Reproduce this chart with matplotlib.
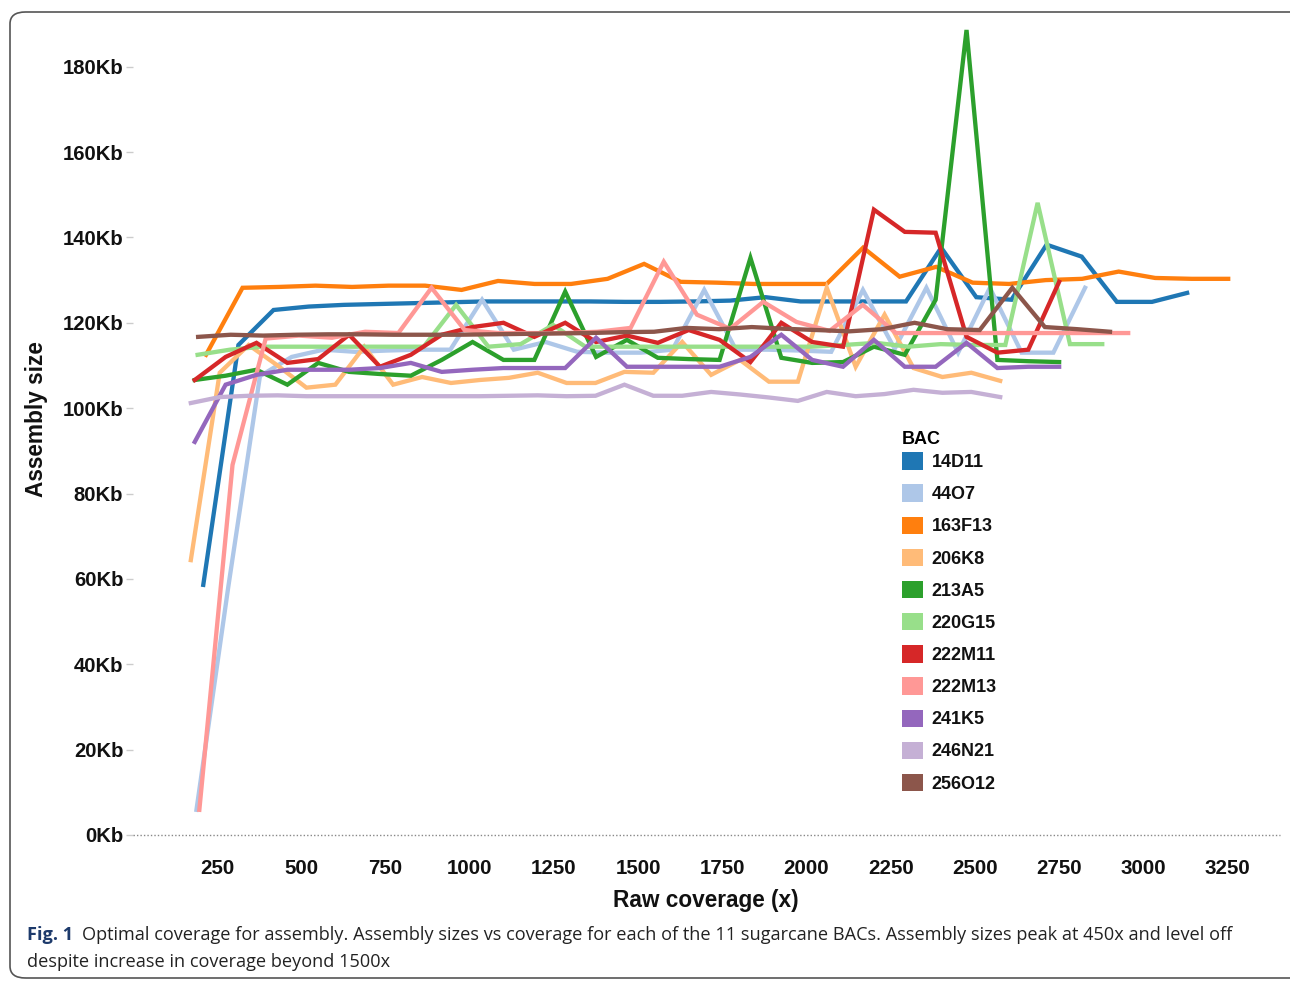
import numpy as np
import matplotlib
matplotlib.use("Agg")
import matplotlib.pyplot as plt
from matplotlib.patches import Patch, FancyBboxPatch

# subsample index k -> coverage = total * k / 30
sample_k = np.arange(2, 31)

bacs = ["14D11", "44O7", "163F13", "206K8", "213A5", "220G15",
        "222M11", "222M13", "241K5", "246N21", "256O12"]
colors = ["#1f77b4", "#aec7e8", "#ff7f0e", "#ffbb78", "#2ca02c", "#98df8a",
          "#d62728", "#ff9896", "#9467bd", "#c5b0d5", "#8c564b"]

# full raw coverage of each BAC (x)
total_cov = [3130, 2827, 3252, 2575, 2750, 2878, 2750, 2955, 2750, 2575, 2901]

# assembly size (Kb) at each subsample
s_14D11 = [58.6, 114.8, 123.0, 123.8, 124.2, 124.4, 124.6, 124.8, 125.0, 125.0,
           125.0, 125.0, 124.9, 124.9, 125.0, 125.2, 126.0, 125.0, 125.0, 125.0,
           125.0, 137.6, 126.0, 125.4, 138.3, 135.5, 124.9, 124.9, 127.0]
s_44O7 = [5.9, 58.0, 107.5, 112.0, 113.7, 113.2, 113.5, 113.7, 113.7, 125.4,
          113.7, 115.5, 113.2, 113.0, 113.0, 113.7, 127.7, 113.7, 113.7, 113.5,
          113.2, 127.7, 113.9, 128.2, 113.0, 128.2, 113.0, 113.0, 128.2]
s_163F13 = [112.5, 128.2, 128.4, 128.7, 128.4, 128.7, 128.7, 127.7, 129.8, 129.1,
            129.1, 130.3, 133.8, 129.6, 129.4, 129.1, 129.1, 129.1, 137.6, 130.8,
            133.1, 129.4, 129.1, 130.0, 130.3, 132.0, 130.5, 130.3, 130.3]
s_206K8 = [64.4, 108.3, 114.8, 110.0, 104.8, 105.5, 114.4, 105.5, 107.3, 105.9,
           106.6, 107.1, 108.3, 105.9, 105.9, 108.5, 108.3, 115.5, 107.8, 111.3,
           106.2, 106.2, 128.2, 109.7, 121.9, 109.4, 107.3, 108.3, 106.4]
s_213A5 = [106.6, 107.6, 109.0, 105.5, 110.6, 108.5, 108.0, 107.6, 111.3, 115.5,
           111.3, 111.3, 127.3, 112.0, 116.0, 111.8, 111.5, 111.3, 135.2, 111.8,
           110.6, 110.8, 114.4, 112.5, 125.4, 188.6, 111.3, 111.0, 110.8]
s_220G15 = [112.5, 113.7, 114.4, 114.4, 114.4, 114.4, 114.4, 114.4, 124.2, 114.4,
            115.0, 119.5, 114.4, 114.4, 114.4, 114.4, 114.4, 114.4, 114.4, 114.4,
            114.8, 115.3, 114.4, 115.0, 114.8, 114.8, 148.1, 115.0, 115.0]
s_222M11 = [106.6, 112.0, 115.3, 110.6, 111.5, 117.2, 109.7, 112.5, 117.2, 119.0,
            120.0, 116.7, 120.0, 115.5, 117.0, 115.3, 118.3, 116.0, 110.8, 120.0,
            115.5, 114.4, 146.5, 141.3, 141.1, 116.7, 113.0, 113.7, 129.6]
s_222M13 = [5.9, 86.7, 116.3, 117.0, 116.5, 117.9, 117.6, 128.2, 118.3, 117.6,
            117.6, 117.6, 117.9, 118.8, 134.3, 121.9, 118.6, 124.9, 120.2, 118.1,
            124.2, 117.6, 117.6, 117.6, 117.6, 117.6, 117.6, 117.6, 117.6]
s_241K5 = [92.1, 105.5, 107.8, 109.0, 109.0, 109.0, 109.4, 110.6, 108.5, 109.0,
           109.4, 109.4, 109.4, 116.5, 109.7, 109.7, 109.7, 109.7, 112.0, 117.2,
           111.3, 109.7, 116.0, 109.7, 109.7, 115.3, 109.4, 109.7, 109.7]
s_246N21 = [101.2, 102.6, 102.9, 103.0, 102.8, 102.8, 102.8, 102.8, 102.8, 102.8,
            102.8, 102.9, 103.0, 102.8, 102.9, 105.5, 102.9, 102.9, 103.8, 103.2,
            102.5, 101.7, 103.8, 102.8, 103.3, 104.3, 103.6, 103.8, 102.6]
s_256O12 = [116.7, 117.2, 117.0, 117.2, 117.3, 117.3, 117.2, 117.2, 117.2, 117.3,
            117.4, 117.5, 117.6, 117.8, 117.9, 118.8, 118.5, 119.0, 118.6, 118.3,
            118.0, 118.5, 120.0, 118.5, 118.3, 128.2, 119.0, 118.5, 117.9]

sizes = [s_14D11, s_44O7, s_163F13, s_206K8, s_213A5, s_220G15,
         s_222M11, s_222M13, s_241K5, s_246N21, s_256O12]

x_ticks = [250, 500, 750, 1000, 1250, 1500, 1750, 2000, 2250, 2500, 2750, 3000, 3250]
y_ticks = [0, 20, 40, 60, 80, 100, 120, 140, 160, 180]

W, H = 1290, 982
fig = plt.figure(figsize=(W / 100, H / 100), dpi=100)
ax = fig.add_axes([133 / W, 1 - 835 / H, (1241 - 133) / W, 811 / H])

for name, col, tot, ys in zip(bacs, colors, total_cov, sizes):
    xs = tot * sample_k / 30
    ax.plot(xs, ys, color=col, lw=3.1, solid_joinstyle="miter", label=name)

ax.set_xlim(0, 3290)
ax.set_ylim(0, 190)
for s in ax.spines.values():
    s.set_visible(False)
ax.axhline(0, xmin=0, xmax=1.035, color="#888888", ls=(0, (1, 1.5)), lw=1, clip_on=False)

ax.set_xticks(x_ticks)
ax.set_xticklabels([str(v) for v in x_ticks])
ax.set_yticks(y_ticks)
ax.set_yticklabels([f"{v}Kb" for v in y_ticks])
ax.tick_params(axis="x", length=0, pad=17, labelsize=14.8)
ax.tick_params(axis="y", length=5, width=1, color="#cccccc", pad=2, labelsize=14.6)
for lab in ax.get_xticklabels() + ax.get_yticklabels():
    lab.set_fontfamily("Liberation Sans")
    lab.set_fontweight("bold")
    lab.set_color("#111111")

fig.text(706 / W, 1 - 901 / H, "Raw coverage (x)", ha="center", va="center",
         fontsize=16.3, fontweight="bold", family="Liberation Sans", color="#111111")
fig.text(37 / W, 1 - 419 / H, "Assembly size", ha="center", va="center", rotation=90,
         fontsize=16.3, fontweight="bold", family="Liberation Sans", color="#111111")

handles = [Patch(facecolor=c, edgecolor="none") for c in colors]
leg = ax.legend(handles, bacs, title="BAC", loc="upper left",
                bbox_to_anchor=(893 / W, 1 - 422 / H), bbox_transform=fig.transFigure,
                frameon=False, borderpad=0, handlelength=1.15, handleheight=1.1,
                handletextpad=0.5, labelspacing=0.74, alignment="left",
                prop={"family": "Liberation Sans", "weight": "bold", "size": 13},
                title_fontproperties={"family": "Liberation Sans", "weight": "bold", "size": 13})
leg._legend_box.sep = 3
for t in leg.get_texts():
    t.set_color("#111111")

# caption and frame
frame = FancyBboxPatch((10 / W, 1 - 978 / H), 1300 / W, 966 / H,
                       boxstyle="round,pad=0,rounding_size=0.012",
                       transform=fig.transFigure, fc="none", ec="#555555", lw=1.2)
fig.patches.append(frame)

t1 = fig.text(27 / W, 1 - 935 / H, "Fig. 1", ha="left", va="center", fontsize=13.1,
              fontweight="bold", family="Open Sans", color="#1d3a6b")
fig.canvas.draw()
bb = t1.get_window_extent()
fig.text((bb.x1 + 9) / W, 1 - 935 / H,
         "Optimal coverage for assembly. Assembly sizes vs coverage for each of the 11 sugarcane BACs. "
         "Assembly sizes peak at 450x and level off",
         ha="left", va="center", fontsize=13.1, family="Open Sans", color="#222222")
fig.text(27 / W, 1 - 962 / H, "despite increase in coverage beyond 1500x",
         ha="left", va="center", fontsize=13.1, family="Open Sans", color="#222222")

fig.savefig("out.png", dpi=100)
